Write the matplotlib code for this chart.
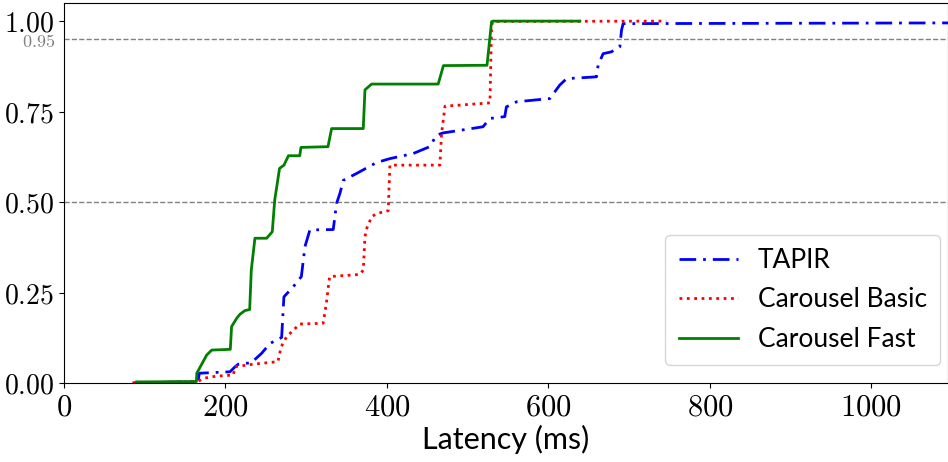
import numpy as np
import matplotlib
matplotlib.use('Agg')
import matplotlib.pyplot as plt
from matplotlib.ticker import FuncFormatter

plt.rcParams['mathtext.fontset'] = 'cm'
plt.rcParams['font.family'] = ['Lato', 'DejaVu Sans']

# latency CDF points (ms, fraction)
tapir_ms = [85, 166, 167.6, 205.6, 212, 216, 232, 244.8, 255, 269.6, 272.4, 284, 294,
            298.5, 304.6, 333.5, 337.6, 341.8, 346, 362.5, 387, 403.7, 432.5, 453,
            461.5, 469.7, 519, 527.6, 546, 548, 560.6, 601.8, 614, 622.5, 659.6, 661.6,
            667.8, 678, 688.5, 690.6, 692.6, 1100]
tapir_cdf = [0.0, 0.004, 0.027, 0.031, 0.045, 0.052, 0.056, 0.082, 0.109, 0.126, 0.238,
             0.266, 0.294, 0.377, 0.423, 0.424, 0.496, 0.524, 0.56, 0.579, 0.609, 0.62,
             0.634, 0.653, 0.685, 0.691, 0.708, 0.731, 0.736, 0.763, 0.777, 0.786, 0.823,
             0.841, 0.846, 0.878, 0.91, 0.915, 0.929, 0.975, 0.993, 0.995]

basic_ms = [85, 166, 172.5, 189, 209.7, 212, 234.5, 265, 269, 275.8, 292, 321, 325, 329,
            366.5, 370.7, 372.8, 375, 381, 387, 401.6, 403, 403.7, 410, 465.6, 467.7,
            472, 527.6, 529.6, 531, 746]
basic_cdf = [0.0, 0.004, 0.013, 0.019, 0.022, 0.045, 0.052, 0.059, 0.10, 0.128, 0.163,
             0.165, 0.22, 0.294, 0.30, 0.312, 0.404, 0.427, 0.459, 0.468, 0.476, 0.56,
             0.602, 0.602, 0.602, 0.69, 0.765, 0.774, 0.985, 0.999, 1.0]

fast_ms = [90, 164, 164.5, 176.7, 183, 206, 207.6, 214, 218, 224, 230, 232, 236.5, 251,
           258, 261, 267, 272.5, 278, 292, 293.5, 327, 331.5, 370.7, 372.8, 381, 463.5,
           470, 524, 529.6, 531, 639]
fast_cdf = [0.003, 0.004, 0.027, 0.077, 0.091, 0.093, 0.156, 0.179, 0.19, 0.20, 0.203,
            0.312, 0.40, 0.40, 0.418, 0.505, 0.593, 0.602, 0.628, 0.628, 0.651, 0.653,
            0.703, 0.703, 0.81, 0.826, 0.826, 0.877, 0.878, 0.998, 1.0, 1.0]

fig = plt.figure(figsize=(9.48, 4.62), dpi=100)
ax = fig.add_axes([0.0675, 0.171, 0.9325, 0.8225])

ax.axhline(0.95, color='gray', linestyle='--', linewidth=1)
ax.axhline(0.5, color='gray', linestyle='--', linewidth=1)
ax.text(-0.01, 0.945, r'$0.95$', color='gray', fontsize=13, ha='right', va='center',
        transform=ax.get_yaxis_transform())

ax.plot(tapir_ms, tapir_cdf, color='blue', linestyle=(0, (6, 2.5, 1, 2.5)), linewidth=2,
        label='TAPIR')
ax.plot(basic_ms, basic_cdf, color='red', linestyle=':', linewidth=2, label='Carousel Basic')
ax.plot(fast_ms, fast_cdf, color='green', linestyle='-', linewidth=2, label='Carousel Fast')

ax.set_xlim(0, 1095)
ax.set_ylim(0, 1.05)
ax.set_xticks([0, 200, 400, 600, 800, 1000])
ax.set_yticks([0, 0.25, 0.5, 0.75, 1.0])
ax.xaxis.set_major_formatter(FuncFormatter(lambda v, p: r'$%d$' % v))
ax.yaxis.set_major_formatter(FuncFormatter(lambda v, p: r'$%.2f$' % v))
ax.tick_params(axis='x', labelsize=22)
ax.tick_params(axis='y', labelsize=20)
ax.set_xlabel('Latency (ms)', fontsize=22, labelpad=3)

ax.legend(loc='lower right', fontsize=19, handlelength=2.25, handletextpad=0.75,
          labelspacing=0.55, borderpad=0.5, borderaxespad=0,
          bbox_to_anchor=(0.991, 0.047))

fig.savefig('out.png', dpi=100)
